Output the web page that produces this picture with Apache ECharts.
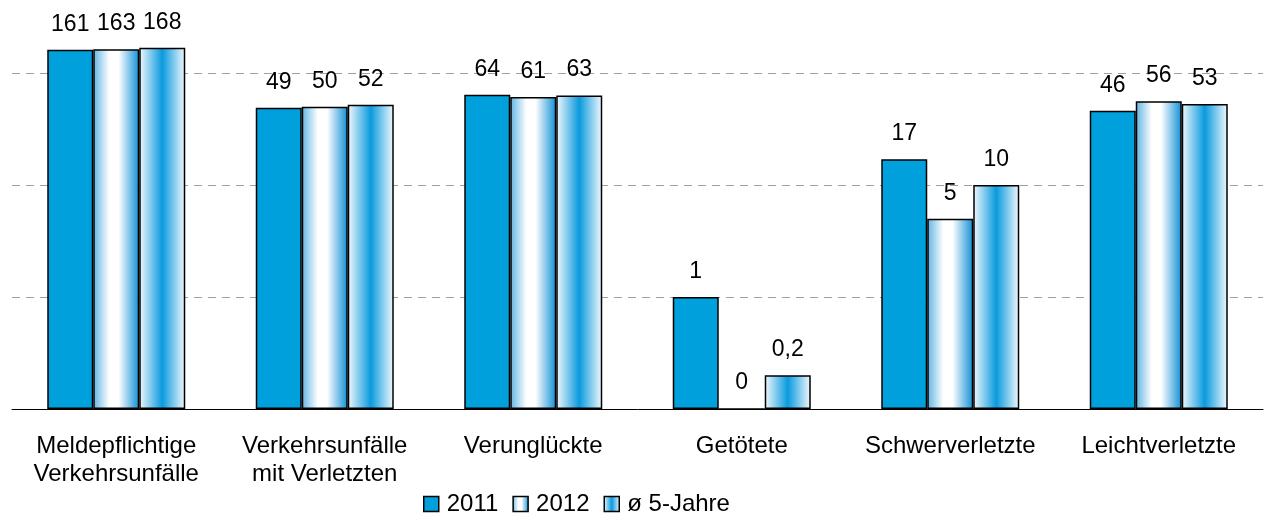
<!DOCTYPE html>
<html>
<head>
<meta charset="utf-8">
<script src="https://cdn.jsdelivr.net/npm/echarts@6/dist/echarts.min.js"></script>
<style>
  html, body { margin: 0; padding: 0; background: #fff; }
  #main { width: 1266px; height: 517px; }
</style>
</head>
<body>
<div id="main"></div>
<script>
// Kategorien und Werte
var categories = ['Meldepflichtige\nVerkehrsunfälle', 'Verkehrsunfälle\nmit Verletzten', 'Verunglückte', 'Getötete', 'Schwerverletzte', 'Leichtverletzte'];
var seriesNames = ['2011', '2012', 'ø 5-Jahre'];
var values2011 = [161, 49, 64, 1, 17, 46];
var values2012 = [163, 50, 61, 0, 5, 56];
var valuesAvg = [168, 52, 63, 0.2, 10, 53];

var font = '"Liberation Sans", Arial, sans-serif';
var axisMin = 0.1;

function grad(stops) {
    return new echarts.graphic.LinearGradient(0, 0, 1, 0, stops);
}
var fills = [
    '#00a0dc',
    grad([{offset: 0, color: '#5fb4e4'}, {offset: 0.35, color: '#ffffff'}, {offset: 0.55, color: '#ffffff'}, {offset: 1, color: '#0f8fd6'}]),
    grad([{offset: 0, color: '#f4f9fd'}, {offset: 0.5, color: '#0a9ade'}, {offset: 1, color: '#f4f9fd'}])
];

function makeSeries(name, values, idx) {
    return {
        name: name,
        type: 'bar',
        barWidth: 46,
        barGap: '0%',
        // 0 ist auf der log-Achse nicht darstellbar -> Balken ohne Höhe
        data: values.map(function (v) { return {value: v > 0 ? v : axisMin, raw: v}; }),
        itemStyle: { color: fills[idx], borderColor: '#000', borderWidth: 1.5 },
        label: {
            show: true,
            position: 'top',
            distance: 14,
            fontFamily: font,
            fontSize: 23,
            color: '#000',
            formatter: function (p) { return String(p.data.raw).replace('.', ','); }
        }
    };
}

var myChart = echarts.init(document.getElementById('main'));
var option = {
    animation: false,
    grid: { left: 12, right: 3, top: -39, bottom: 108, outerBoundsMode: 'none' },
    legend: {
        top: 487,
        left: 418,
        icon: 'rect',
        itemWidth: 15,
        itemHeight: 15,
        itemGap: 14,
        itemStyle: { borderColor: '#000', borderWidth: 1.5 },
        textStyle: { fontFamily: font, fontSize: 24, color: '#000', padding: [0, 0, 0, 3] },
        data: seriesNames
    },
    xAxis: {
        type: 'category',
        data: categories,
        axisLine: { lineStyle: { color: '#000', width: 1 } },
        axisTick: { length: 7, lineStyle: { color: '#000' } },
        axisLabel: { fontFamily: font, fontSize: 24, lineHeight: 28, color: '#000', margin: 23, interval: 0 }
    },
    yAxis: {
        type: 'log',
        logBase: 10,
        min: axisMin,
        max: 1000,
        startValue: axisMin,
        axisLine: { show: false },
        axisTick: { show: false },
        axisLabel: { show: false },
        splitLine: { lineStyle: { color: '#a0a0a0', type: [8, 6], width: 1 } }
    },
    series: [
        makeSeries(seriesNames[0], values2011, 0),
        makeSeries(seriesNames[1], values2012, 1),
        makeSeries(seriesNames[2], valuesAvg, 2)
    ]
};
myChart.setOption(option);
</script>
</body>
</html>
